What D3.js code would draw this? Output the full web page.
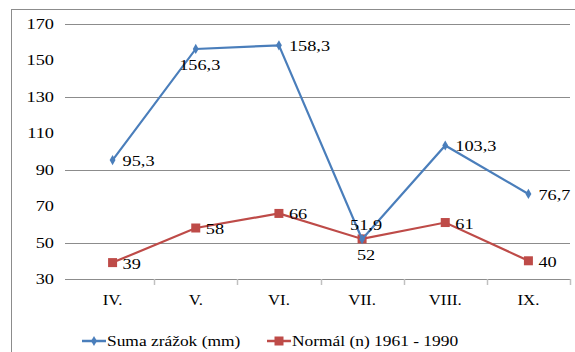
<!DOCTYPE html>
<html><head><meta charset="utf-8">
<script src="https://cdn.jsdelivr.net/npm/d3@7"></script>
<style>body{margin:0;background:#fff}</style>
</head><body><svg id="c" width="575" height="352"></svg>
<script>
const categories = ["IV.","V.","VI.","VII.","VIII.","IX."];
const sumaValues = [95.3,156.3,158.3,51.9,103.3,76.7];
const normalValues = [39,58,66,52,61,40];
const sumaLabels = ["95,3","156,3","158,3","51,9","103,3","76,7"];
const normalLabels = ["39","58","66","52","61","40"];
const yTicks = [30,50,70,90,110,130,150,170];
const gridValues = [50,90,130,170];
const seriesNames = ["Suma zrážok (mm)","Normál (n) 1961 - 1990"];
const sumaPos = ["right","below","right","above","right","right"];
const normalPos = ["right","right","right","below","right","right"];

const FONT = "'Liberation Serif'";
const svg = d3.select("#c");
const L=71, R=570, T=24, B=279;
const x = d3.scaleBand().domain(categories).range([L,R]);
const y = d3.scaleLinear().domain([30,170]).range([B,T]);
const blue="#4a7ebb", red="#be4b48";
const NUM = "scale(1.22,1)";

function txt(sel){ return sel.style("font-family",FONT).attr("fill","#000").attr("font-size",15); }

// outer border
svg.append("rect").attr("x",11.5).attr("y",9.5).attr("width",600).attr("height",400)
  .attr("fill","none").attr("stroke","#8c8c8c").attr("stroke-width",1);

// gridlines
svg.append("g").selectAll("line").data(gridValues).join("line")
  .attr("x1",65).attr("x2",R).attr("y1",d=>Math.round(y(d))+0.5).attr("y2",d=>Math.round(y(d))+0.5)
  .attr("stroke","#8c8c8c").attr("stroke-width",1.2);

// y axis labels
const ya = d3.axisLeft(y).tickValues(yTicks).tickSize(0).tickPadding(0);
const gy = svg.append("g").attr("transform",`translate(${L-17},0)`).call(ya).attr("font-family",null);
gy.select(".domain").remove();
txt(gy.selectAll("text")).attr("transform",NUM).attr("x",0).attr("dy","0.3em");

// x axis
const xa = d3.axisBottom(x).tickSize(0).tickPadding(0);
const gx = svg.append("g").attr("transform",`translate(0,${B})`).call(xa).attr("font-family",null);
gx.select(".domain").attr("stroke","#8c8c8c").attr("stroke-width",1.2).attr("d",`M65,0.5H${R}`);
txt(gx.selectAll("text")).attr("dy","1.75em").attr("transform","scale(1.12,1)");
// boundary ticks
const bounds = d3.range(categories.length+1).map(i=>x.range()[0]+i*x.step());
svg.append("g").selectAll("line").data(bounds.slice(1)).join("line")
  .attr("x1",d=>Math.round(d)+0.5).attr("x2",d=>Math.round(d)+0.5).attr("y1",B).attr("y2",B+6)
  .attr("stroke","#c0c0c0").attr("stroke-width",1.5);

const cx = d=>x(d)+x.bandwidth()/2;
const line = d3.line().x((d,i)=>cx(categories[i])).y(d=>y(d));

// normal series
svg.append("path").datum(normalValues).attr("d",line).attr("fill","none").attr("stroke",red).attr("stroke-width",2.2);
svg.append("g").selectAll("rect").data(normalValues).join("rect")
  .attr("x",(d,i)=>cx(categories[i])-4.5).attr("y",d=>y(d)-4.5).attr("width",9).attr("height",9).attr("fill",red);

// suma series
svg.append("path").datum(sumaValues).attr("d",line).attr("fill","none").attr("stroke",blue).attr("stroke-width",2.2);
svg.append("g").selectAll("path.m").data(sumaValues).join("path").attr("class","m")
  .attr("d",d3.symbol(d3.symbolDiamond,30)).attr("transform",(d,i)=>`translate(${cx(categories[i])},${y(d)})`).attr("fill",blue);

function labels(vals,texts,pos){
  const g = svg.append("g").selectAll("g").data(vals).join("g")
   .attr("transform",(d,i)=>{const c=cx(categories[i]);const v=y(d);
      const px = pos[i]==="right"?c+10:c+4; const py = pos[i]==="right"?v+6:pos[i]==="below"?v+21:v-9;
      return `translate(${px},${py}) ${NUM}`;});
  txt(g.append("text"))
   .attr("text-anchor",(d,i)=>pos[i]==="right"?"start":"middle")
   .text((d,i)=>texts[i]);
}
labels(sumaValues,sumaLabels,sumaPos);
labels(normalValues,normalLabels,normalPos);

// legend
const lg = svg.append("g").attr("transform","translate(0,341)");
const items=[{x:82,c:blue,t:seriesNames[0],m:"d"},{x:267,c:red,t:seriesNames[1],m:"s"}];
items.forEach(it=>{
  lg.append("line").attr("x1",it.x).attr("x2",it.x+24).attr("y1",0).attr("y2",0).attr("stroke",it.c).attr("stroke-width",2.5);
  if(it.m==="d") lg.append("path").attr("d",d3.symbol(d3.symbolDiamond,30)).attr("transform",`translate(${it.x+12},0)`).attr("fill",it.c);
  else lg.append("rect").attr("x",it.x+7.5).attr("y",-4.5).attr("width",9).attr("height",9).attr("fill",it.c);
  txt(lg.append("text")).attr("transform",`translate(${it.x+25},5) scale(1.16,1)`).text(it.t);
});
</script></body></html>
